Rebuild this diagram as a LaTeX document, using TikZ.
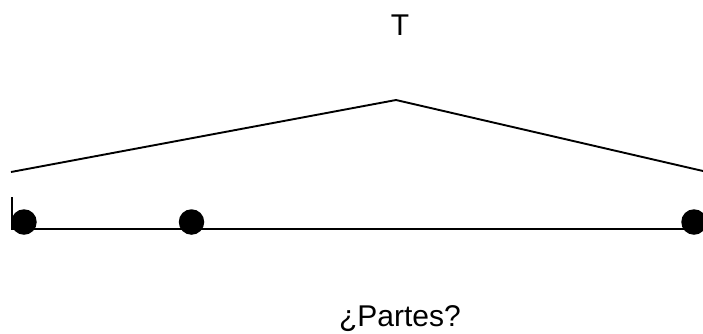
\documentclass[tikz,border=0pt]{standalone}
\usepackage{fontspec}
\setmainfont{Liberation Sans}
\begin{document}
\begin{tikzpicture}[x=1pt,y=-1pt,
  ln/.style={line width=1.9pt,black},
  dot/.style={circle,fill=black,inner sep=0pt,minimum size=25.5pt},
  lbl/.style={font=\fontsize{30}{34}\selectfont,anchor=base,inner sep=0pt}]
\useasboundingbox (0,0) rectangle (703,333);
\node[lbl] (t) at (400,35) {T};
\node[lbl] (p) at (400,326) {¿Partes?};
\coordinate (l) at (11,172);
\coordinate (apex) at (396,100);
\coordinate (r) at (703,171);
\draw[ln] (l) -- (apex) -- (r);
\coordinate (tk) at (12,197);
\coordinate (h0) at (12,229);
\coordinate (h1) at (690,229);
\draw[ln] (tk) -- (h0) -- (h1);
\node[dot] (d1) at (24,222) {};
\node[dot] (d2) at (191.5,222) {};
\node[dot] (d3) at (694,222) {};
\end{tikzpicture}
\end{document}
